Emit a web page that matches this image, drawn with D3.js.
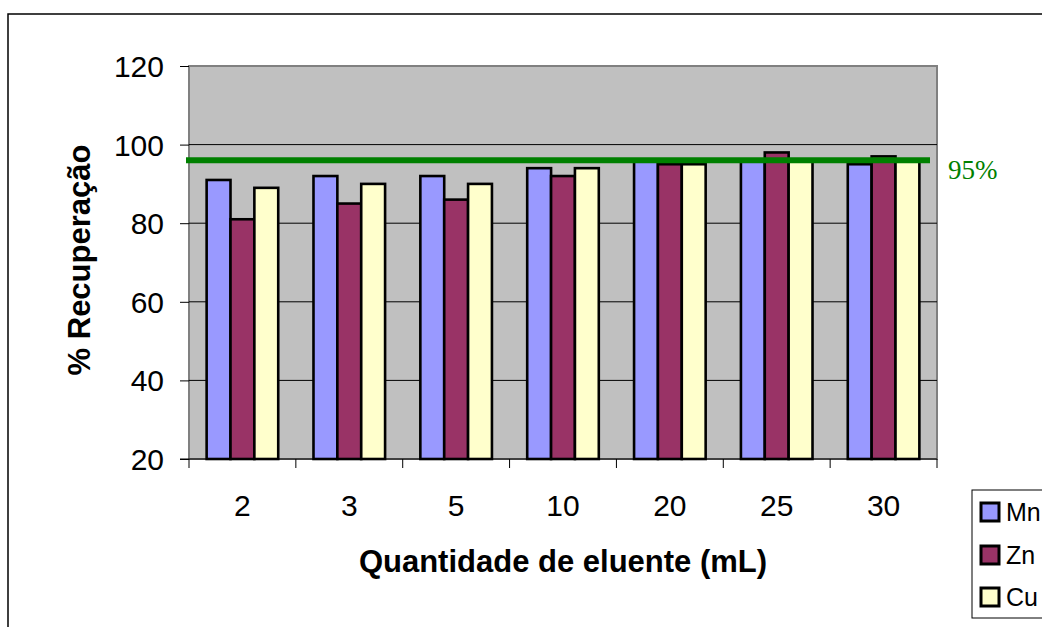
<!DOCTYPE html>
<html>
<head>
<meta charset="utf-8">
<script src="https://cdn.jsdelivr.net/npm/d3@7"></script>
<style>
  body { margin: 0; background: #fff; }
  svg { font-family: "Liberation Sans", Arial, sans-serif; }
</style>
</head>
<body>
<script>
const categories = ['2', '3', '5', '10', '20', '25', '30'];
const seriesNames = ['Mn', 'Zn', 'Cu'];
const mnValues = [91, 92, 92, 94, 96, 96, 95];
const znValues = [81, 85, 86, 92, 95, 98, 97];
const cuValues = [89, 90, 90, 94, 95, 96, 96];
const yTicks = [20, 40, 60, 80, 100, 120];
const refValue = 96;
const refLabel = '95%';
const colors = ['#9999FF', '#993366', '#FFFFCC'];

const w = 1042, h = 627;
const plotL = 189, plotR = 937, plotT = 66, plotB = 459;

const svg = d3.select('body').append('svg').attr('width', w).attr('height', h);

// outer chart border
svg.append('rect').attr('x', 8).attr('y', 14).attr('width', 1100).attr('height', 700)
  .attr('fill', 'none').attr('stroke', '#000').attr('stroke-width', 1.5);

const x = d3.scaleBand().domain(categories).range([plotL, plotR]).paddingInner(0.33).paddingOuter(0.165);
const xs = d3.scaleBand().domain(seriesNames).range([0, x.bandwidth()]);
const y = d3.scaleLinear().domain([20, 120]).range([plotB, plotT]);

// plot area
svg.append('rect').attr('x', plotL).attr('y', plotT).attr('width', plotR - plotL).attr('height', plotB - plotT)
  .attr('fill', '#C0C0C0').attr('stroke', '#808080').attr('stroke-width', 2);

svg.append('g').selectAll('line').data(yTicks.slice(1, -1)).enter().append('line')
  .attr('x1', plotL).attr('x2', plotR).attr('y1', d => y(d)).attr('y2', d => y(d))
  .attr('stroke', '#000').attr('stroke-width', 1);

const table = categories.map((c, i) => ({ cat: c, vals: [mnValues[i], znValues[i], cuValues[i]] }));

svg.append('g').selectAll('g').data(table).enter().append('g')
  .attr('transform', d => `translate(${x(d.cat)},0)`)
  .selectAll('rect').data(d => d.vals.map((v, j) => ({ name: seriesNames[j], v: v, j: j }))).enter().append('rect')
  .attr('x', d => xs(d.name)).attr('y', d => y(d.v))
  .attr('width', xs.bandwidth()).attr('height', d => y(20) - y(d.v))
  .attr('fill', d => colors[d.j]).attr('stroke', '#000').attr('stroke-width', 2.6);

// axes
const yAxis = d3.axisLeft(y).tickValues(yTicks).tickSize(9).tickPadding(16);
const gy = svg.append('g').attr('transform', `translate(${plotL},0)`).call(yAxis);
gy.attr('font-size', null).attr('font-family', null);
gy.select('.domain').remove();
gy.selectAll('line').attr('stroke', '#000');
gy.selectAll('text').attr('font-size', 30).attr('fill', '#000').attr('dy', '0.35em');

const gx = svg.append('g').attr('transform', `translate(0,${plotB})`);
gx.append('line').attr('x1', plotL - 9).attr('x2', plotR).attr('y1', 0).attr('y2', 0).attr('stroke', '#000').attr('stroke-width', 1);
const step = (plotR - plotL) / categories.length;
gx.selectAll('line.tk').data(d3.range(categories.length + 1)).enter().append('line').attr('class', 'tk')
  .attr('x1', d => plotL + d * step).attr('x2', d => plotL + d * step).attr('y1', 0).attr('y2', 9)
  .attr('stroke', '#000');
gx.selectAll('text').data(categories).enter().append('text')
  .attr('x', d => x(d) + x.bandwidth() / 2).attr('y', 57).attr('text-anchor', 'middle')
  .attr('font-size', 30).text(d => d);

// reference line
svg.append('line').attr('x1', 186).attr('x2', 930).attr('y1', y(refValue)).attr('y2', y(refValue))
  .attr('stroke', '#008000').attr('stroke-width', 6);
svg.append('text').attr('x', 948).attr('y', 179).attr('fill', '#008000')
  .attr('font-family', '"Liberation Serif", "Times New Roman", serif').attr('font-size', 27).text(refLabel);

// axis titles
svg.append('text').attr('transform', 'translate(90,260) rotate(-90)').attr('text-anchor', 'middle')
  .attr('font-size', 31).attr('font-weight', 'bold').text('% Recuperação');
svg.append('text').attr('x', 563).attr('y', 572).attr('text-anchor', 'middle')
  .attr('font-size', 31).attr('font-weight', 'bold').text('Quantidade de eluente (mL)');

// legend
const lg = svg.append('g');
lg.append('rect').attr('x', 972).attr('y', 490).attr('width', 100).attr('height', 128)
  .attr('fill', '#fff').attr('stroke', '#000').attr('stroke-width', 1);
const ly = [512, 555, 597];
seriesNames.forEach((n, i) => {
  lg.append('rect').attr('x', 981).attr('y', ly[i] - 9).attr('width', 18).attr('height', 18)
    .attr('fill', colors[i]).attr('stroke', '#000').attr('stroke-width', 3);
  lg.append('text').attr('x', 1006).attr('y', ly[i] + 9).attr('font-size', 25).text(n);
});
</script>
</body>
</html>
